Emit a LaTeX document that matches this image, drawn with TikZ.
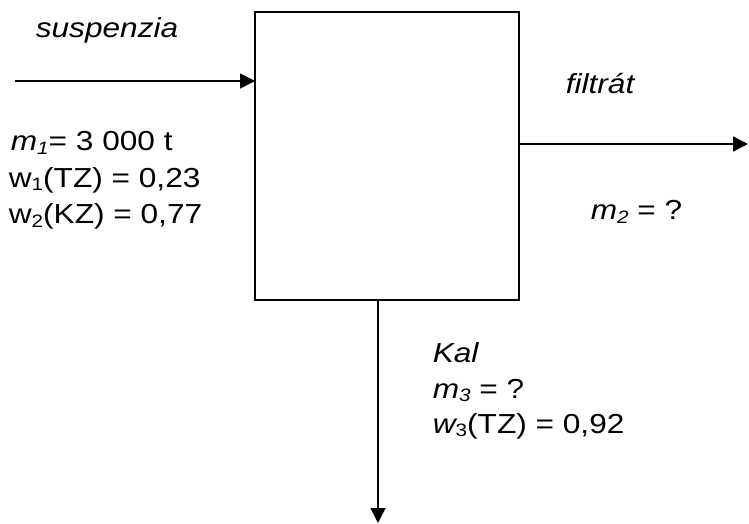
\documentclass[tikz,border=0pt]{standalone}
\usepackage{fontspec}
\setmainfont[FakeStretch=1.15]{Liberation Sans}
\usetikzlibrary{arrows.meta}
\newcommand{\sbi}[1]{\raisebox{-3.5bp}{\fontsize{18bp}{18bp}\selectfont\itshape #1}}
\newcommand{\sbu}[1]{\raisebox{-3.5bp}{\fontsize{18bp}{18bp}\selectfont #1}}
\begin{document}
\begin{tikzpicture}[x=1bp,y=-1bp,line width=1.6bp,
  flow/.style={-{Triangle[length=15bp,width=15bp]}},
  lbl/.style={anchor=base west,inner sep=0pt,font=\fontsize{27.5bp}{30bp}\selectfont}]
\useasboundingbox (0,0) rectangle (749,524);
\node[draw,minimum width=264bp,minimum height=288bp,anchor=north west,inner sep=0pt,outer sep=0pt] (box) at (255,12) {};
\coordinate (in) at (15,81);
\coordinate (out) at (748,144);
\coordinate (down) at (378,523);
\draw[flow] (in) -- (in -| box.west);
\draw[flow] (box.east |- out) -- (out);
\draw[flow] (box.south -| down) -- (down);
\node[lbl] (susp) at (35,38) {\itshape suspenzia};
\node[lbl] (m1) at (10,151) {\itshape m\sbi{1}\upshape= 3 000 t};
\node[lbl] (w1) at (8,187.5) {w\sbu{1}(TZ) = 0,23};
\node[lbl] (w2) at (8,224) {w\sbu{2}(KZ) = 0,77};
\node[lbl] (filt) at (565,94) {\itshape filtrát};
\node[lbl] (m2) at (590,220) {\itshape m\sbi{2}\upshape{} = ?};
\node[lbl] (kal) at (432,362) {\itshape Kal};
\node[lbl] (m3) at (432,398) {\itshape m\sbi{3}\upshape{} = ?};
\node[lbl] (w3) at (432,433) {\itshape w\upshape\sbu{3}(TZ) = 0,92};
\end{tikzpicture}
\end{document}
